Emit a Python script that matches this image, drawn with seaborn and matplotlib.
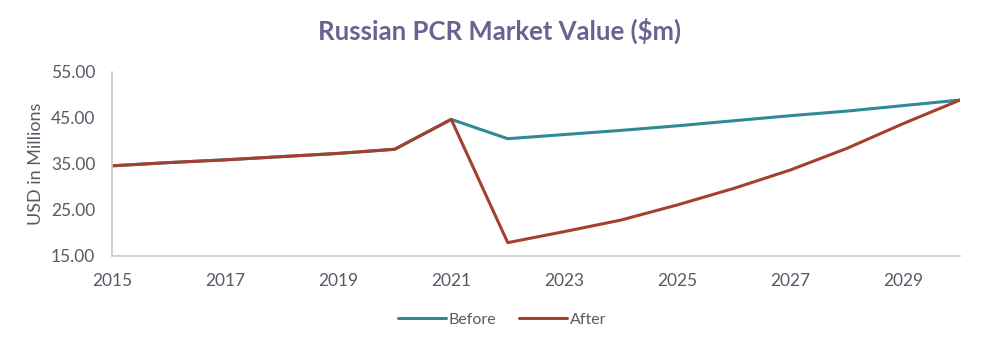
import matplotlib
matplotlib.use("Agg")
import matplotlib.pyplot as plt
import seaborn as sns
import pandas as pd
from matplotlib.lines import Line2D

years = list(range(2015, 2031))
before = [34.6, 35.3, 35.9, 36.6, 37.3, 38.2, 44.7, 40.5, 41.4, 42.3, 43.3, 44.4, 45.5, 46.5, 47.7, 48.9]
after = [34.6, 35.3, 35.9, 36.6, 37.3, 38.2, 44.7, 17.9, 20.3, 22.8, 26.1, 29.7, 33.7, 38.4, 43.8, 48.9]
series_names = ["Before", "After"]
colors = {"Before": "#2E8A95", "After": "#A5402F"}
y_ticks = [15, 25, 35, 45, 55]
x_ticks = [2015, 2017, 2019, 2021, 2023, 2025, 2027, 2029]

df = pd.concat([
    pd.DataFrame({"Year": years, "Value": before, "Series": "Before"}),
    pd.DataFrame({"Year": years, "Value": after, "Series": "After"}),
])

sns.set_theme(style="white")
plt.rcParams["font.family"] = ["Lato", "DejaVu Sans"]
text_color = "#595966"

fig = plt.figure(figsize=(10, 3.42), dpi=100)
ax = fig.add_axes([0.112, 0.2515, 0.848, 0.538])
sns.lineplot(data=df, x="Year", y="Value", hue="Series", hue_order=series_names,
             palette=colors, linewidth=2.2, ax=ax, legend=False)

ax.set_xlim(2015, 2030)
ax.set_ylim(15, 55)
ax.set_xticks(x_ticks)
ax.set_xticklabels([str(x) for x in x_ticks])
ax.set_yticks(y_ticks)
ax.set_yticklabels([f"{v:.2f}" for v in y_ticks])
ax.tick_params(axis="both", length=0, labelsize=12.5, colors=text_color)
ax.tick_params(axis="y", pad=12)
ax.tick_params(axis="x", pad=12)
ax.set_xlabel("")
ax.set_ylabel("USD in Millions", fontsize=13, color=text_color)
ax.yaxis.set_label_coords(-0.080, 0.5)
for s in ["top", "right"]:
    ax.spines[s].set_visible(False)
for s in ["left", "bottom"]:
    ax.spines[s].set_color("#C8C8CC")
    ax.spines[s].set_linewidth(1.2)

fig.text(0.5, 0.91, "Russian PCR Market Value ($m)", ha="center", va="center",
         fontsize=18.5, fontweight="bold", color="#6A6290")

handles = [Line2D([0], [0], color=colors[n], linewidth=2.2) for n in series_names]
fig.legend(handles, series_names, loc="center", bbox_to_anchor=(0.502, 0.065), ncol=2,
           frameon=False, fontsize=11.5, labelcolor=text_color, handlelength=3.0,
           handletextpad=0.2, columnspacing=1.4)

fig.savefig("out.png", dpi=100, facecolor="white")
